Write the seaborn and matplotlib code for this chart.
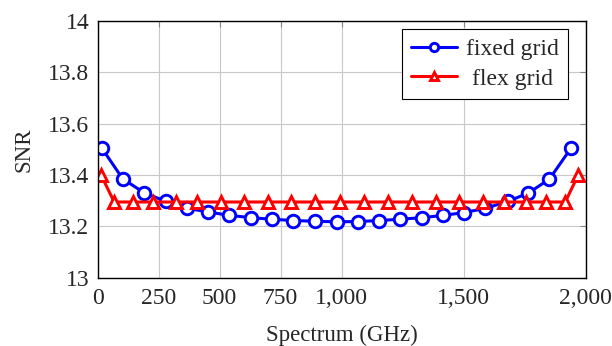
import pandas as pd
import matplotlib
matplotlib.use('Agg')
import matplotlib.pyplot as plt
import matplotlib.ticker as mticker
import seaborn as sns

# ================================================ DATA ===============================================================

fixed_x = [17, 103, 192, 279, 365, 454, 540, 629, 715, 802, 892, 980,
           1069, 1155, 1240, 1329, 1417, 1503, 1588, 1681, 1766, 1852, 1941]
fixed_snr = [13.505, 13.385, 13.330, 13.298, 13.271, 13.256, 13.243, 13.234, 13.228, 13.223, 13.220, 13.218,
             13.219, 13.223, 13.228, 13.234, 13.243, 13.254, 13.270, 13.297, 13.330, 13.384, 13.505]

flex_x = [14, 68, 144, 228, 320, 408, 504, 600, 697, 793, 893, 993,
          1092, 1192, 1289, 1387, 1483, 1578, 1666, 1755, 1838, 1917, 1970]
flex_snr = [13.40] + [13.295] * 21 + [13.40]

x_ticks = [0, 250, 500, 750, 1000, 1500, 2000]
y_ticks = [13, 13.2, 13.4, 13.6, 13.8, 14]

# ================================================ PLOT ===============================================================

df = pd.concat([
    pd.DataFrame({'x': fixed_x, 'snr': fixed_snr, 'series': 'fixed grid'}),
    pd.DataFrame({'x': flex_x, 'snr': flex_snr, 'series': 'flex grid'}),
])

sns.set_style('whitegrid', {'grid.color': '#c8c8c8', 'axes.edgecolor': 'black'})
plt.rcParams['font.family'] = ['Liberation Serif', 'DejaVu Serif']

fig, ax = plt.subplots(figsize=(6.12, 3.46), dpi=100)
fig.subplots_adjust(left=0.1595, right=0.9567, bottom=0.197, top=0.940)

sns.lineplot(data=df, x='x', y='snr', hue='series', style='series',
             palette={'fixed grid': '#0000ff', 'flex grid': '#ff0000'},
             markers={'fixed grid': 'o', 'flex grid': '^'}, dashes=False,
             linewidth=2.2, markersize=9, markerfacecolor='white', markeredgewidth=2.1,
             ax=ax)
for line in ax.lines:
    line.set_markeredgecolor(line.get_color())

ax.set_xlim(0, 2000)
ax.set_ylim(13, 14)
ax.set_xticks(x_ticks)
ax.set_yticks(y_ticks)
ax.xaxis.set_major_formatter(mticker.FuncFormatter(lambda v, p: f'{int(v):,}'))
ax.yaxis.set_major_formatter(mticker.FuncFormatter(lambda v, p: f'{v:g}'))
ax.tick_params(direction='in', length=4, width=0.8, color='#888888', labelsize=17,
               right=True, top=True)
ax.tick_params(axis='x', pad=7)
ax.tick_params(axis='y', pad=6)
ax.grid(True, linewidth=0.8)
for sp in ax.spines.values():
    sp.set_linewidth(1.0)
    sp.set_color('black')

ax.set_xlabel('Spectrum (GHz)', fontsize=16.5, labelpad=12)
ax.set_ylabel('SNR', fontsize=16.5, labelpad=10)

leg = ax.legend(loc='upper right', fontsize=17, frameon=True, fancybox=False,
                edgecolor='black', framealpha=1, handlelength=1.95, borderpad=0.4,
                labelspacing=0.35, handletextpad=0.35, borderaxespad=0,
                bbox_to_anchor=(0.964, 0.968))
leg.get_frame().set_linewidth(0.8)
for h in leg.legend_handles:
    h.set_markersize(6)
    h.set_markerfacecolor('white')
    h.set_markeredgecolor(h.get_color())

# centre the legend labels on each other, as in the reference
fig.canvas.draw()
renderer = fig.canvas.get_renderer()
texts = leg.get_texts()
widths = [t.get_window_extent(renderer).width for t in texts]
for t, w in zip(texts, widths):
    t.set_x((max(widths) - w) / 2)

fig.savefig('out.png', dpi=100)
